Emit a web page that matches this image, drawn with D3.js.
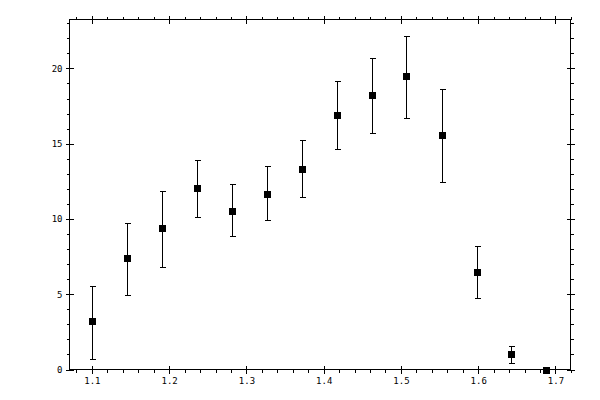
<!DOCTYPE html>
<html>
<head>
<meta charset="utf-8">
<script src="https://cdn.jsdelivr.net/npm/d3@7"></script>
<style>
  body { margin: 0; background: #fff; }
  svg text { font-family: "DejaVu Sans Mono", monospace; font-size: 9px; fill: #000; }
</style>
</head>
<body>
<div id="chart"></div>
<script>
// Measured values
const xValues = [1.100, 1.145, 1.191, 1.236, 1.281, 1.327, 1.372, 1.417, 1.462, 1.507, 1.553, 1.598, 1.643, 1.688];
const yValues = [3.19, 7.38, 9.37, 12.03, 10.56, 11.69, 13.29, 16.88, 18.21, 19.47, 15.55, 6.45, 1.00, 0];
const yLow    = [0.73, 4.98, 6.84, 10.10, 8.90, 9.90, 11.43, 14.62, 15.68, 16.74, 12.43, 4.78, 0.40, 0];
const yHigh   = [5.58, 9.70, 11.89, 13.89, 12.29, 13.51, 15.22, 19.14, 20.66, 22.13, 18.60, 8.19, 1.59, 0];

const xTicks = [1.1, 1.2, 1.3, 1.4, 1.5, 1.6, 1.7];
const yTicks = [0, 5, 10, 15, 20];
const xTickLabels = ["1.1", "1.2", "1.3", "1.4", "1.5", "1.6", "1.7"];
const yTickLabels = ["0", "5", "10", "15", "20"];

const points = xValues.map((x, i) => ({ x, y: yValues[i], lo: yLow[i], hi: yHigh[i] }));

const width = 600, height = 400;
const frame = { left: 69.5, right: 570.5, top: 19.5, bottom: 369.5 };

const svg = d3.select("#chart")
  .append("svg")
  .attr("width", width)
  .attr("height", height)
  .attr("shape-rendering", "crispEdges");

// Scales
const x = d3.scaleLinear().domain([1.071, 1.7195]).range([frame.left, frame.right]);
const y = d3.scaleLinear().domain([0, 23.25]).range([frame.bottom, frame.top]);

// minor tick positions
const xMinor = d3.range(1.08, 1.721, 0.02).filter(v => Math.abs(v * 10 - Math.round(v * 10)) > 1e-6);
const yMinor = d3.range(0, 24, 1).filter(v => v % 5 !== 0);

// Frame
svg.append("rect")
  .attr("x", frame.left).attr("y", frame.top)
  .attr("width", frame.right - frame.left).attr("height", frame.bottom - frame.top)
  .attr("fill", "none").attr("stroke", "#000");

function styleAxis(g) {
  g.select(".domain").remove();
  g.selectAll("line").attr("stroke", "#000");
}

// Minor ticks, outward only
svg.append("g").attr("transform", `translate(0,${frame.bottom})`)
  .call(d3.axisBottom(x).tickValues(xMinor).tickSize(3).tickFormat(""))
  .call(styleAxis);
svg.append("g").attr("transform", `translate(0,${frame.top})`)
  .call(d3.axisTop(x).tickValues(xMinor).tickSize(3).tickFormat(""))
  .call(styleAxis);
svg.append("g").attr("transform", `translate(${frame.left},0)`)
  .call(d3.axisLeft(y).tickValues(yMinor).tickSize(3).tickFormat(""))
  .call(styleAxis);
svg.append("g").attr("transform", `translate(${frame.right},0)`)
  .call(d3.axisRight(y).tickValues(yMinor).tickSize(3).tickFormat(""))
  .call(styleAxis);

// Major ticks, crossing the frame
const xb = svg.append("g").attr("transform", `translate(0,${frame.bottom})`)
  .call(d3.axisBottom(x).tickValues(xTicks).tickSize(4).tickPadding(4)
    .tickFormat((d, i) => xTickLabels[i]))
  .call(styleAxis);
xb.selectAll("line").attr("y1", -4);

const xt = svg.append("g").attr("transform", `translate(0,${frame.top})`)
  .call(d3.axisTop(x).tickValues(xTicks).tickSize(4).tickFormat(""))
  .call(styleAxis);
xt.selectAll("line").attr("y1", 4);

const yl = svg.append("g").attr("transform", `translate(${frame.left},0)`)
  .call(d3.axisLeft(y).tickValues(yTicks).tickSize(4).tickPadding(3)
    .tickFormat((d, i) => yTickLabels[i]))
  .call(styleAxis);
yl.selectAll("line").attr("x1", 4);

const yr = svg.append("g").attr("transform", `translate(${frame.right},0)`)
  .call(d3.axisRight(y).tickValues(yTicks).tickSize(4).tickFormat(""))
  .call(styleAxis);
yr.selectAll("line").attr("x1", -4);

svg.selectAll("g").attr("font-family", null).attr("font-size", null);

// Error bars
const bars = svg.append("g").attr("stroke", "#000");
bars.selectAll(".err")
  .data(points.filter(d => d.hi > d.lo))
  .enter()
  .append("g")
  .each(function(d) {
    const g = d3.select(this);
    const cx = Math.round(x(d.x)) + 0.5;
    const yh = Math.round(y(d.hi)) + 0.5;
    const ylo = Math.round(y(d.lo)) + 0.5;
    g.append("line").attr("x1", cx).attr("x2", cx).attr("y1", ylo).attr("y2", yh);
    g.append("line").attr("x1", cx - 3).attr("x2", cx + 3).attr("y1", yh).attr("y2", yh);
    g.append("line").attr("x1", cx - 3).attr("x2", cx + 3).attr("y1", ylo).attr("y2", ylo);
  });

// Markers
svg.selectAll(".pt")
  .data(points)
  .enter()
  .append("rect")
  .attr("class", "pt")
  .attr("x", d => Math.round(x(d.x)) - 3)
  .attr("y", d => Math.round(y(d.y)) - 3)
  .attr("width", 7)
  .attr("height", 7)
  .attr("fill", "#000");
</script>
</body>
</html>
